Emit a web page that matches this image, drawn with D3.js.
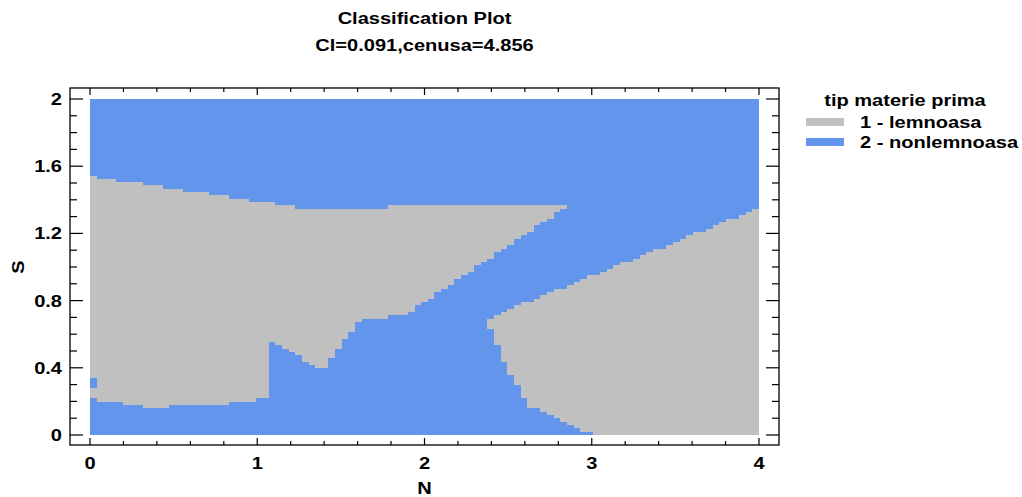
<!DOCTYPE html>
<html>
<head>
<meta charset="utf-8">
<script src="https://cdn.jsdelivr.net/npm/d3@7"></script>
<style>
  html, body { margin: 0; padding: 0; background: #fff; }
  svg text { font-family: "Liberation Sans", Arial, sans-serif; font-weight: bold; fill: #000; }
</style>
</head>
<body>
<svg id="chart" width="1022" height="497"></svg>
<script>
// Classification map on a 101 x 101 evaluation grid over N in [0,4], S in [0,2].
// Boundaries are given as runs: [firstColumn, edgeRow] — the edge holds from that
// column until the next run starts.
const gridSize = 101;
const nDomain = [0, 4];
const sDomain = [0, 2];

const classLabels = ["1 - lemnoasa", "2 - nonlemnoasa"];
const classColors = ["#c0c0c0", "#6495ed"];
const legendTitle = "tip materie prima";

// Upper-left "lemnoasa" region, columns 0..71
const regionAEnd = 72;
const regionATop = [[0,78],[1,77],[4,76],[8,75],[11,74],[14,73],[18,72],[21,71],[24,70],[28,69],[31,68],[45,69]];
const regionABottom = [[0,17],[1,10],[5,9],[8,8],[12,9],[21,10],[25,11],[27,28],[28,27],[29,26],[30,25],
  [31,24],[32,22],[33,21],[34,20],[36,23],[37,26],[38,29],[39,31],[40,34],[41,35],[45,36],[48,37],
  [49,39],[50,40],[51,41],[52,43],[53,44],[54,45],[55,47],[56,48],[57,49],[58,51],[59,52],[60,53],
  [61,55],[62,56],[63,57],[64,59],[65,60],[66,61],[67,63],[68,64],[69,65],[70,67],[71,68]];

// Lower-right "lemnoasa" region, columns 60..100
const regionBStart = 60;
const regionBTop = [[60,35],[61,36],[62,37],[63,38],[64,39],[65,40],[67,41],[68,42],[69,43],[70,44],
  [72,45],[73,46],[74,47],[75,48],[77,49],[78,50],[79,51],[80,52],[82,53],[83,54],[84,55],[85,56],
  [87,57],[88,58],[89,59],[90,60],[91,61],[93,62],[94,63],[95,64],[96,65],[98,66],[99,67],[100,68]];
const regionBBottom = [[60,32],[61,27],[62,22],[63,18],[64,15],[65,11],[66,8],[68,7],[69,6],[70,5],
  [71,4],[72,3],[73,2],[74,1],[76,0]];

// Isolated lemnoasa cells: [column, fromRow, toRow]
const extraCells = [[0, 11, 14]];

const xTicks = [0, 1, 2, 3, 4];
const yTicks = [0, 0.4, 0.8, 1.2, 1.6, 2];

const titleLines = ["Classification Plot", "Cl=0.091,cenusa=4.856"];
const xTitle = "N";
const yTitle = "S";

// ---------------------------------------------------------------------------
const svg = d3.select("#chart");
const frame = { left: 70, right: 779, top: 88, bottom: 445 };
const x = d3.scaleLinear().domain(nDomain).range([90, 759]);
const y = d3.scaleLinear().domain(sDomain).range([435, 99]);

const colW = (nDomain[1] - nDomain[0]) / gridSize;
const rowH = (sDomain[1] - sDomain[0]) / gridSize;

// labels use a slightly wide bold face
const FONT = 17, WIDEN = 1.18;
function label(parent, px, py, str, anchor, rotate) {
  return parent.append("text")
    .attr("transform", `translate(${px},${py})${rotate ? ` rotate(${rotate})` : ""} scale(${WIDEN},1)`)
    .attr("text-anchor", anchor || "start")
    .attr("font-size", FONT)
    .text(str);
}

// expand runs into one value per column
function expand(runs, start, end) {
  const out = [];
  for (let c = start; c < end; c++) {
    let v = null;
    for (const r of runs) if (r[0] <= c) v = r[1];
    out.push({ c, v });
  }
  return out;
}
function regionPoints(topRuns, bottomRuns, start, end) {
  const top = expand(topRuns, start, end);
  const bot = expand(bottomRuns, start, end);
  const pts = top.map((t, i) => ({ c: t.c, t: t.v, b: bot[i].v }));
  const last = pts[pts.length - 1];
  pts.push({ c: end, t: last.t, b: last.b });
  return pts;
}

const plot = svg.append("g");

// background class (nonlemnoasa)
plot.append("rect")
  .attr("x", x(nDomain[0])).attr("y", y(sDomain[1]))
  .attr("width", x(nDomain[1]) - x(nDomain[0]))
  .attr("height", y(sDomain[0]) - y(sDomain[1]))
  .attr("fill", classColors[1])
  .attr("shape-rendering", "crispEdges");

const area = d3.area()
  .curve(d3.curveStepAfter)
  .x(d => x(d.c * colW))
  .y0(d => y(d.b * rowH))
  .y1(d => y(d.t * rowH));

const regions = [
  regionPoints(regionATop, regionABottom, 0, regionAEnd),
  regionPoints(regionBTop, regionBBottom, regionBStart, gridSize)
];
plot.selectAll("path.region").data(regions).join("path")
  .attr("class", "region")
  .attr("d", area)
  .attr("fill", classColors[0])
  .attr("shape-rendering", "crispEdges");

plot.selectAll("rect.cell").data(extraCells).join("rect")
  .attr("class", "cell")
  .attr("x", d => x(d[0] * colW))
  .attr("width", d => x((d[0] + 1) * colW) - x(d[0] * colW))
  .attr("y", d => y(d[2] * rowH))
  .attr("height", d => y(d[1] * rowH) - y(d[2] * rowH))
  .attr("fill", classColors[0])
  .attr("shape-rendering", "crispEdges");

// frame
svg.append("rect")
  .attr("x", frame.left).attr("y", frame.top)
  .attr("width", frame.right - frame.left).attr("height", frame.bottom - frame.top)
  .attr("fill", "none").attr("stroke", "#000").attr("stroke-width", 1.3);

// ticks
const ticks = svg.append("g").attr("stroke", "#000").attr("stroke-width", 1.2);
const xMinor = d3.range(0, 4.0001, 0.2);
const yMinor = d3.range(0, 2.0001, 0.1);
xMinor.forEach(v => {
  const major = xTicks.some(t => Math.abs(t - v) < 1e-6);
  const len = major ? 7 : 4;
  ticks.append("line").attr("x1", x(v)).attr("x2", x(v)).attr("y1", frame.bottom).attr("y2", frame.bottom - len);
  ticks.append("line").attr("x1", x(v)).attr("x2", x(v)).attr("y1", frame.top).attr("y2", frame.top + len);
});
yMinor.forEach(v => {
  const major = yTicks.some(t => Math.abs(t - v) < 1e-6);
  const len = major ? 13 : 7;
  ticks.append("line").attr("y1", y(v)).attr("y2", y(v)).attr("x1", frame.left).attr("x2", frame.left + len);
  ticks.append("line").attr("y1", y(v)).attr("y2", y(v)).attr("x1", frame.right).attr("x2", frame.right - len);
});

// tick labels
xTicks.forEach(d => label(svg, x(d), 469, d3.format("")(d), "middle"));
yTicks.forEach(d => label(svg, 62, y(d) + 6, d3.format("")(d), "end"));

// axis titles
label(svg, (frame.left + frame.right) / 2, 494, xTitle, "middle");
label(svg, 24, y(1), yTitle, "middle", -90);

// chart title
titleLines.forEach((t, i) => label(svg, (frame.left + frame.right) / 2, 24 + i * 27, t, "middle"));

// legend
const legend = svg.append("g");
label(legend, 905, 106, legendTitle, "middle");
classLabels.forEach((lab, i) => {
  legend.append("rect").attr("x", 806).attr("y", 118 + i * 20)
    .attr("width", 38).attr("height", 8).attr("fill", classColors[i]);
  label(legend, 860, 128 + i * 20, lab, "start");
});
</script>
</body>
</html>
